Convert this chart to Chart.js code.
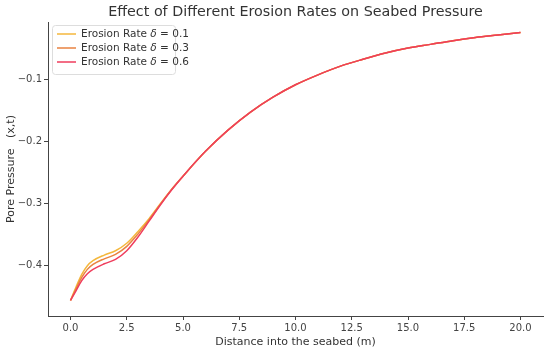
<!DOCTYPE html>
<html>
<head>
<meta charset="utf-8">
<script src="https://cdn.jsdelivr.net/npm/chart.js@4"></script>
<style>
  html, body { margin: 0; padding: 0; background: #fff; }
  #wrap { width: 550px; height: 349px; }
</style>
</head>
<body>
<div id="wrap"><canvas id="canvas"></canvas></div>
<script>
// distance into the seabed (m)
const distance = [0, 0.25, 0.5, 0.75, 1, 1.5, 2, 2.5, 3, 3.5, 4, 4.5, 5, 6, 7, 8, 9, 10, 11, 12, 13, 14, 15, 16, 17, 18, 19, 20];
// pore pressure
const rate01 = [-0.456, -0.434, -0.414, -0.400, -0.392, -0.383, -0.376, -0.364, -0.345, -0.324, -0.300, -0.277, -0.256, -0.216, -0.182, -0.153, -0.129, -0.109, -0.093, -0.079, -0.068, -0.058, -0.050, -0.044, -0.038, -0.033, -0.029, -0.025];
const rate03 = [-0.456, -0.437, -0.419, -0.406, -0.398, -0.389, -0.382, -0.369, -0.349, -0.326, -0.301, -0.277, -0.256, -0.216, -0.182, -0.153, -0.129, -0.109, -0.093, -0.079, -0.068, -0.058, -0.050, -0.044, -0.038, -0.033, -0.029, -0.025];
const rate06 = [-0.456, -0.440, -0.424, -0.413, -0.406, -0.397, -0.390, -0.376, -0.354, -0.328, -0.302, -0.278, -0.256, -0.216, -0.182, -0.153, -0.129, -0.109, -0.093, -0.079, -0.068, -0.058, -0.050, -0.044, -0.038, -0.033, -0.029, -0.025];
const rateLabels = ["0.1", "0.3", "0.6"];
const xTicks = [0, 2.5, 5, 7.5, 10, 12.5, 15, 17.5, 20];
const yTicks = [-0.4, -0.3, -0.2, -0.1];
const lineColors = ["#f4b73c", "#e98240", "#ef3d5c"];

const FONT = "'DejaVu Sans', sans-serif";

function toPoints(vals) {
  return vals.map((v, i) => ({ x: distance[i], y: v }));
}

// title centred on the plot area and legend drawn inside it
const extras = {
  id: "extras",
  afterDraw(chart) {
    const ctx = chart.ctx;
    const a = chart.chartArea;
    ctx.save();
    ctx.fillStyle = "#333";
    ctx.font = "14.3px " + FONT;
    ctx.textAlign = "center";
    ctx.textBaseline = "middle";
    ctx.fillText("Effect of Different Erosion Rates on Seabed Pressure", (a.left + a.right) / 2, 12);

    // legend box
    const bx = a.left + 4, by = a.top + 3, bw = 123, bh = 49;
    ctx.fillStyle = "rgba(255,255,255,0.85)";
    ctx.strokeStyle = "#ddd";
    ctx.lineWidth = 1;
    ctx.beginPath();
    ctx.roundRect(bx + 0.5, by + 0.5, bw, bh, 3);
    ctx.fill();
    ctx.stroke();
    chart.data.datasets.forEach((ds, i) => {
      const y = by + 9 + i * 14;
      ctx.strokeStyle = ds.borderColor;
      ctx.lineWidth = 1.5;
      ctx.beginPath();
      ctx.moveTo(bx + 5, y);
      ctx.lineTo(bx + 24, y);
      ctx.stroke();
      ctx.fillStyle = "#333";
      ctx.textAlign = "left";
      ctx.font = "10.5px " + FONT;
      let tx = bx + 29;
      const p1 = "Erosion Rate ";
      ctx.fillText(p1, tx, y);
      tx += ctx.measureText(p1).width;
      ctx.font = "italic 10.5px " + FONT;
      ctx.fillText("δ", tx, y);
      tx += ctx.measureText("δ").width;
      ctx.font = "10.5px " + FONT;
      ctx.fillText(" = " + rateLabels[i], tx, y);
    });
    ctx.restore();
  }
};

new Chart("canvas", {
  type: "line",
  data: {
    datasets: [rate01, rate03, rate06].map((vals, i) => ({
      label: "Erosion Rate δ = " + rateLabels[i],
      data: toPoints(vals),
      borderColor: lineColors[i],
      backgroundColor: lineColors[i],
      borderWidth: 1.5,
      pointRadius: 0,
      cubicInterpolationMode: "monotone",
      fill: false,
      order: 2 - i
    }))
  },
  options: {
    responsive: true,
    maintainAspectRatio: false,
    animation: false,
    layout: { padding: { top: 22, right: 7, left: 0, bottom: 0 } },
    plugins: {
      legend: { display: false },
      title: { display: false },
      tooltip: { enabled: false }
    },
    scales: {
      x: {
        type: "linear",
        min: -1,
        max: 21,
        afterBuildTicks: (s) => { s.ticks = xTicks.map(v => ({ value: v })); },
        afterFit: (s) => { s.height = 33; },
        grid: { drawOnChartArea: false, drawTicks: true, tickLength: 4, color: "#444" },
        border: { color: "#444", width: 1 },
        ticks: {
          color: "#444",
          font: { family: FONT, size: 10 },
          padding: 2,
          maxRotation: 0,
          callback: (v) => v.toFixed(1)
        },
        title: {
          display: true,
          text: "Distance into the seabed (m)",
          color: "#333",
          font: { family: FONT, size: 11 },
          padding: { top: 1, bottom: 0 }
        }
      },
      y: {
        type: "linear",
        min: -0.481,
        max: -0.008,
        afterBuildTicks: (s) => { s.ticks = yTicks.map(v => ({ value: v })); },
        afterFit: (s) => { s.width = 48; },
        grid: { drawOnChartArea: false, drawTicks: true, tickLength: 4, color: "#444" },
        border: { color: "#444", width: 1 },
        ticks: {
          color: "#444",
          font: { family: FONT, size: 10 },
          padding: 2,
          callback: (v) => "\u2212" + Math.abs(v).toFixed(1)
        },
        title: {
          display: true,
          text: "Pore Pressure   (x,t)",
          color: "#333",
          font: { family: FONT, size: 11 },
          padding: { top: 5, bottom: 0 }
        }
      }
    }
  },
  plugins: [extras]
});
</script>
</body>
</html>
